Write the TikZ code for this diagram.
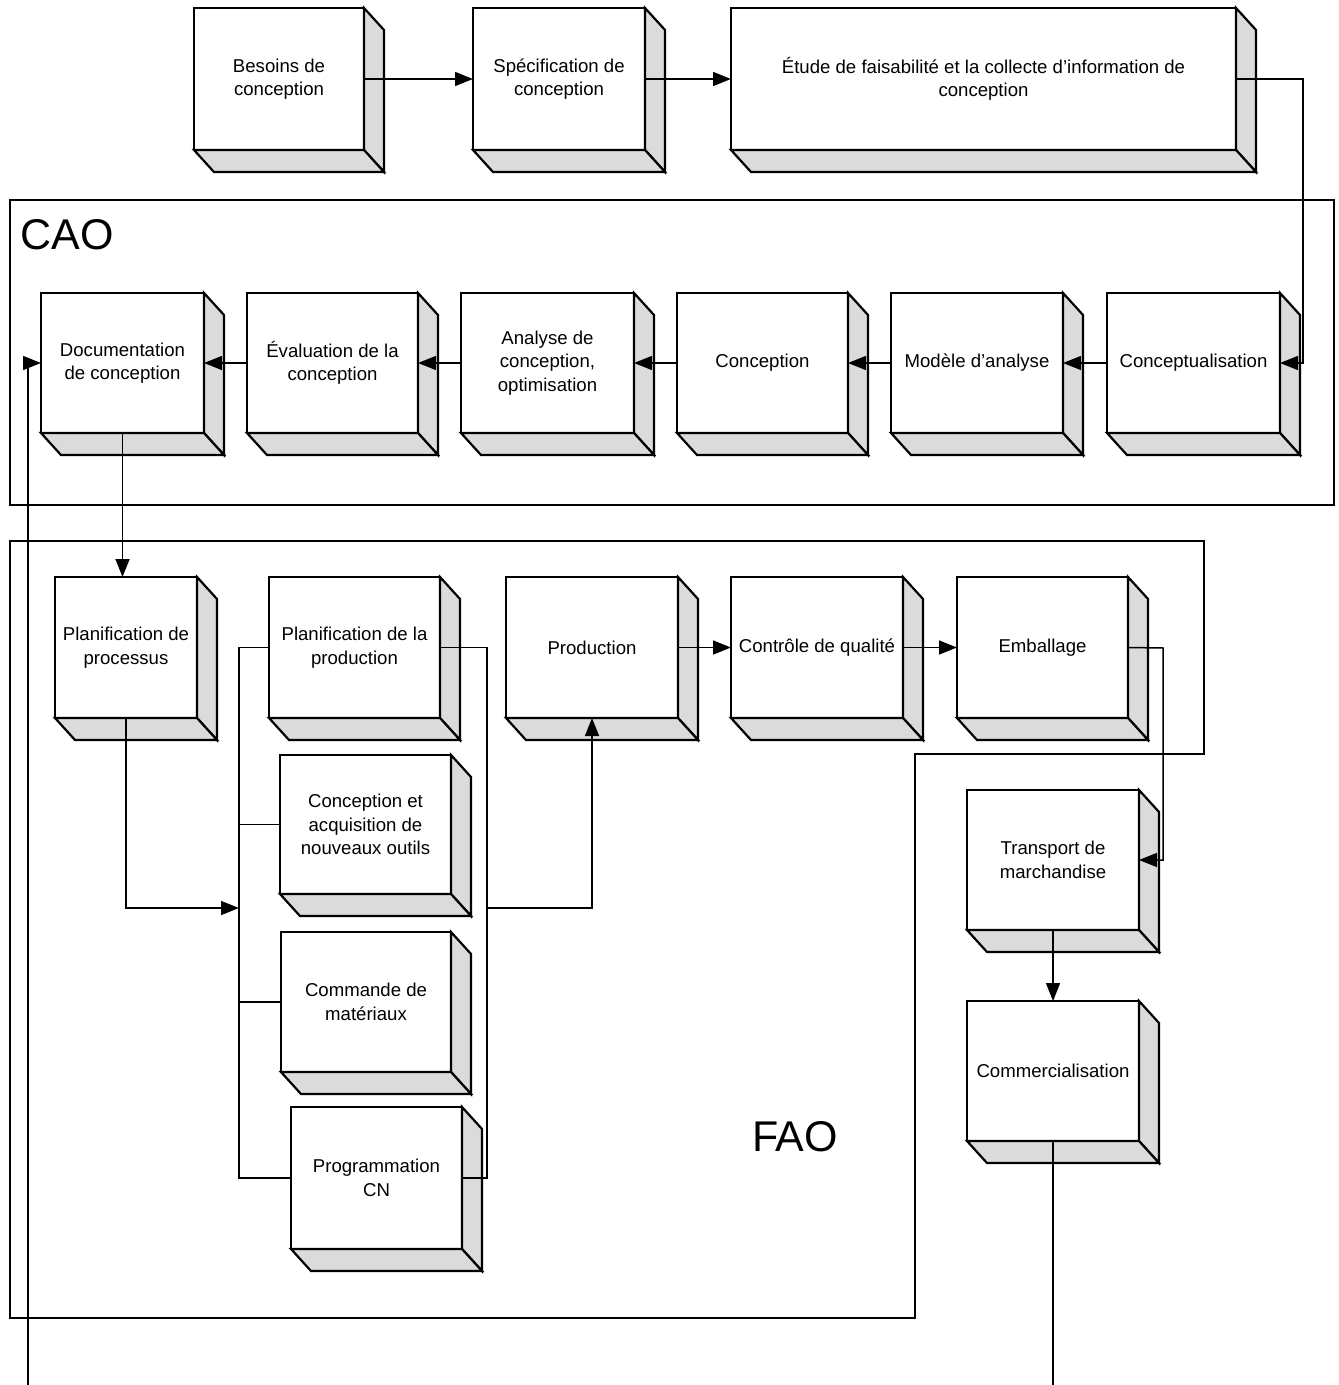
\documentclass[tikz,border=0pt]{standalone}
\usepackage{fontspec}
\setmainfont{Liberation Sans}
\usetikzlibrary{arrows.meta}

\tikzset{
  boxface/.style={draw, line width=1.1pt, fill=white, align=center,
    inner sep=2pt, outer sep=0pt, font=\fontsize{9.3}{11.8}\selectfont},
  sideface/.style={draw, line width=1.1pt, fill=gray!28, line join=miter},
  link/.style={line width=0.75pt},
  arr/.style={link, -{Triangle[length=9pt,width=7pt]}},
  frame/.style={line width=0.75pt},
  bigtag/.style={font=\fontsize{21.5}{26}\selectfont, inner sep=0pt}
}

% \slab{name}{x1}{y1}{x2}{y2}{text}: front face from (x1,y1) to (x2,y2)
% with a shaded extrusion towards the lower right.
\newcommand{\slab}[6]{%
  \pgfmathsetmacro{\slabcx}{(#2+#4)/2}%
  \pgfmathsetmacro{\slabcy}{(#3+#5)/2}%
  \pgfmathsetmacro{\slabw}{(#4-#2)*0.5}%
  \pgfmathsetmacro{\slabh}{(#5-#3)*0.5}%
  \node[boxface, minimum width=\slabw pt, minimum height=\slabh pt] (#1) at (\slabcx,\slabcy) {#6};
  \filldraw[sideface] (#1.north east) -- ++(20,22) -- ([shift={(20,22)}]#1.south east) -- (#1.south east) -- cycle;
  \filldraw[sideface] (#1.south west) -- ++(20,22) -- ([shift={(20,22)}]#1.south east) -- (#1.south east) -- cycle;
}

\begin{document}
\begin{tikzpicture}[x=0.5pt, y=-0.5pt]
  \useasboundingbox (0,0) rectangle (1338,1385);
  \fill[white] (0,0) rectangle (1338,1385);

  % group frames
  \draw[frame] (10,200) rectangle (1334,505);
  \draw[frame] (10,541) -- (1204,541) -- (1204,754) -- (915,754) -- (915,1318) -- (10,1318) -- cycle;
  \node[bigtag, anchor=west] (cao) at (20,235) {CAO};
  \node[bigtag] (fao) at (795,1137) {FAO};

  % design requirements
  \slab{besoins}{194}{8}{364}{150}{Besoins de\\conception}
  \slab{spec}{473}{8}{645}{150}{Spécification de\\conception}
  \slab{etude}{731}{8}{1236}{150}{Étude de faisabilité et la collecte d'information de\\conception}

  % CAO chain
  \slab{doc}{41}{293}{204}{433}{Documentation\\de conception}
  \slab{eval}{247}{293}{418}{433}{Évaluation de la\\conception}
  \slab{anal}{461}{293}{634}{433}{Analyse de\\conception,\\optimisation}
  \slab{conc}{677}{293}{848}{433}{Conception}
  \slab{mod}{891}{293}{1063}{433}{Modèle d'analyse}
  \slab{cpt}{1107}{293}{1280}{433}{Conceptualisation}

  % FAO chain
  \slab{planproc}{55}{577}{197}{718}{Planification de\\processus}
  \slab{planprod}{269}{577}{440}{718}{Planification de la\\production}
  \slab{prod}{506}{577}{678}{718}{Production}
  \slab{ctrl}{731}{577}{903}{718}{Contrôle de qualité}
  \slab{emb}{957}{577}{1128}{718}{Emballage}
  \slab{outils}{280}{755}{451}{894}{Conception et\\acquisition de\\nouveaux outils}
  \slab{cmd}{281}{932}{451}{1072}{Commande de\\matériaux}
  \slab{prog}{291}{1107}{462}{1249}{Programmation\\CN}

  % distribution
  \slab{trans}{967}{790}{1139}{930}{Transport de\\marchandise}
  \slab{comm}{967}{1001}{1139}{1141}{Commercialisation}

  % helper coordinates
  \coordinate (turnR) at (1303,79);
  \coordinate (busL) at (239,908);
  \coordinate (busR) at (487,908);
  \coordinate (turnE) at (1163,648);
  \coordinate (loopS) at (28,1385);
  \coordinate (endS) at (1055,1385);

  % connectors
  \draw[arr] (besoins.east) -- (spec.west);
  \draw[arr] (spec.east) -- (etude.west);
  \draw[arr] (etude.east) -- (turnR) |- (cpt.east);
  \draw[arr] (cpt.west) -- (mod.east);
  \draw[arr] (mod.west) -- (conc.east);
  \draw[arr] (conc.west) -- (anal.east);
  \draw[arr] (anal.west) -- (eval.east);
  \draw[arr] (eval.west) -- (doc.east);
  \draw[arr] (doc.south) -- (doc.south |- planproc.north);
  \draw[arr] (planproc.south) |- (busL);
  \draw[link] (planprod.west) -- (planprod.west -| busL) |- (prog.west);
  \draw[link] (outils.west -| busL) -- (outils.west);
  \draw[link] (cmd.west -| busL) -- (cmd.west);
  \draw[link] (planprod.east) -- (planprod.east -| busR) |- (prog.east);
  \draw[arr] (busR) -| (prod.south);
  \draw[arr] (prod.east) -- (ctrl.west);
  \draw[arr] (ctrl.east) -- (emb.west);
  \draw[arr] (emb.east) -- (turnE) |- (trans.east);
  \draw[arr] (trans.south) -- (comm.north);
  \draw[link] (comm.south) -- (comm.south |- endS);
  \draw[arr] (loopS) |- (doc.west);
\end{tikzpicture}
\end{document}
